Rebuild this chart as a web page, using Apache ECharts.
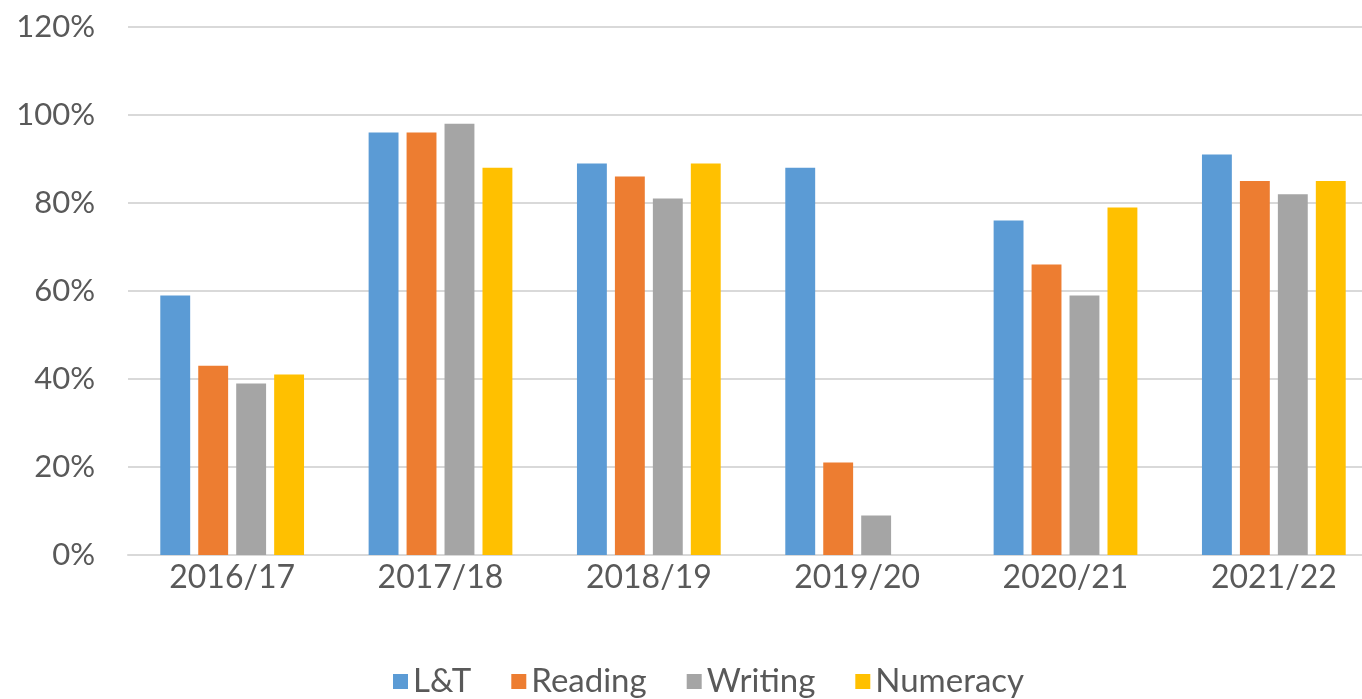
<!DOCTYPE html>
<html>
<head>
<meta charset="utf-8">
<script src="https://cdn.jsdelivr.net/npm/echarts@6/dist/echarts.min.js"></script>
<style>
  html, body { margin: 0; padding: 0; background: #fff; overflow: hidden; }
  #main { width: 1380px; height: 699px; }
</style>
</head>
<body>
<div id="main"></div>
<script>
// categories and series values (percent)
var years = ['2016/17', '2017/18', '2018/19', '2019/20', '2020/21', '2021/22'];
var lt = [59, 96, 89, 88, 76, 91];
var reading = [43, 96, 86, 21, 66, 85];
var writing = [39, 98, 81, 9, 59, 82];
var numeracy = [41, 88, 89, 0, 79, 85];
var yTicks = [0, 20, 40, 60, 80, 100, 120];

var font = 'Lato';
var textColor = '#595959';

function bar(name, data, color) {
  return {
    name: name,
    type: 'bar',
    data: data,
    barGap: '27%',
    barCategoryGap: '31%',
    itemStyle: { color: color }
  };
}

var myChart = echarts.init(document.getElementById('main'));
myChart.setOption({
  animation: false,
  backgroundColor: '#fff',
  // plot runs slightly past the right edge of the window, as in the original
  grid: { left: 128, right: 2, top: 27, bottom: 144 },
  legend: {
    bottom: -4,
    left: 388,
    icon: 'rect',
    itemWidth: 15,
    itemHeight: 15,
    itemGap: 40,
    textStyle: { fontFamily: font, fontSize: 33, color: textColor }
  },
  xAxis: {
    type: 'category',
    data: years,
    axisLine: { lineStyle: { color: '#d9d9d9', width: 2 } },
    axisTick: { show: false },
    axisLabel: { fontFamily: font, fontSize: 32, color: textColor, margin: 7 }
  },
  yAxis: {
    type: 'value',
    min: yTicks[0],
    max: yTicks[yTicks.length - 1],
    interval: 20,
    axisLine: { show: false },
    axisTick: { show: false },
    splitLine: { lineStyle: { color: '#d9d9d9', width: 2 } },
    axisLabel: { fontFamily: font, fontSize: 31, color: textColor, margin: 33, formatter: '{value}%' }
  },
  series: [
    bar('L&T', lt, '#5b9bd5'),
    bar('Reading', reading, '#ed7d31'),
    bar('Writing', writing, '#a5a5a5'),
    bar('Numeracy', numeracy, '#ffc000')
  ]
});
</script>
</body>
</html>
